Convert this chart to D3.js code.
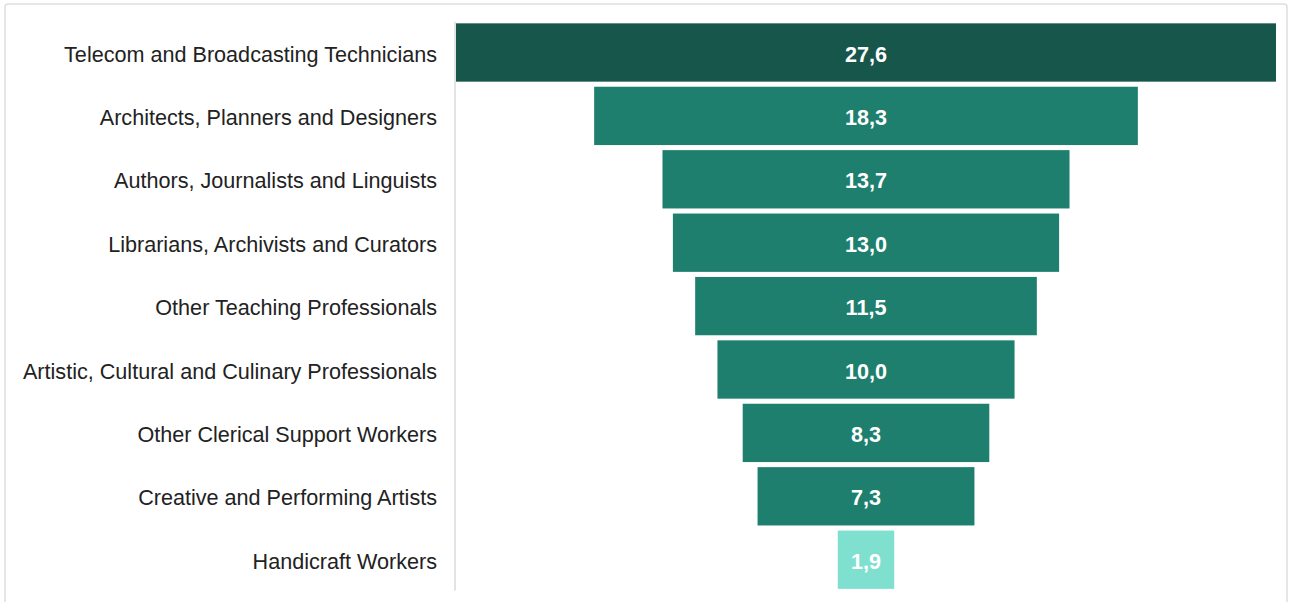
<!DOCTYPE html>
<html>
<head>
<meta charset="utf-8">
<script src="https://cdn.jsdelivr.net/npm/d3@7"></script>
<style>
  html, body { margin: 0; padding: 0; background: #fff; }
  svg { display: block; font-family: "Liberation Sans", Arial, sans-serif; }
</style>
</head>
<body>
<svg id="chart" width="1293" height="602"></svg>
<script>
// Occupations and their values (top to bottom)
const categories = [
  "Telecom and Broadcasting Technicians",
  "Architects, Planners and Designers",
  "Authors, Journalists and Linguists",
  "Librarians, Archivists and Curators",
  "Other Teaching Professionals",
  "Artistic, Cultural and Culinary Professionals",
  "Other Clerical Support Workers",
  "Creative and Performing Artists",
  "Handicraft Workers"
];
const values = [27.6, 18.3, 13.7, 13.0, 11.5, 10.0, 8.3, 7.3, 1.9];

const data = categories.map((c, i) => ({ category: c, value: values[i] }));

const svg = d3.select("#chart");
const W = 1293, H = 602;

// panel frame
svg.append("rect")
  .attr("x", 5).attr("y", 4)
  .attr("width", W - 11).attr("height", H + 10)
  .attr("rx", 3)
  .attr("fill", "#fff")
  .attr("stroke", "#dedede")
  .attr("stroke-width", 1.5);

const plot = { left: 456, right: 1276, top: 20.8, bottom: 591.4 };
const center = (plot.left + plot.right) / 2;

const x = d3.scaleLinear()
  .domain([0, d3.max(values)])
  .range([0, plot.right - plot.left]);

const y = d3.scaleBand()
  .domain(categories)
  .range([plot.top, plot.bottom])
  .paddingInner(0.08)
  .paddingOuter(0.04);

const maxV = d3.max(values), minV = d3.min(values);
const fillFor = v => v === maxV ? "#17564a" : (v === minV ? "#80e0d0" : "#1f7f6e");

// category axis line
svg.append("line")
  .attr("x1", plot.left - 1).attr("x2", plot.left - 1)
  .attr("y1", plot.top + 1).attr("y2", plot.bottom - 1)
  .attr("stroke", "#e3e3e3")
  .attr("stroke-width", 2);

// category labels
const yAxis = d3.axisLeft(y).tickSize(0).tickPadding(19);
const gAxis = svg.append("g")
  .attr("transform", `translate(${plot.left},0)`)
  .call(yAxis);
gAxis.select(".domain").remove();
gAxis.attr("font-family", null).attr("font-size", null);
gAxis.selectAll("text")
  .attr("font-size", 21.6)
  .attr("dy", "0.42em")
  .attr("fill", "#222");

// centred funnel bars
svg.append("g").selectAll("rect")
  .data(data)
  .join("rect")
  .attr("x", d => center - x(d.value) / 2)
  .attr("y", d => y(d.category))
  .attr("width", d => x(d.value))
  .attr("height", y.bandwidth())
  .attr("fill", d => fillFor(d.value));

// value labels
const fmt = v => d3.format(".1f")(v).replace(".", ",");
svg.append("g").selectAll("text")
  .data(data)
  .join("text")
  .attr("x", center)
  .attr("y", d => y(d.category) + y.bandwidth() / 2)
  .attr("dy", "0.42em")
  .attr("text-anchor", "middle")
  .attr("font-size", 21.6)
  .attr("font-weight", "bold")
  .attr("fill", "#fff")
  .text(d => fmt(d.value));
</script>
</body>
</html>
